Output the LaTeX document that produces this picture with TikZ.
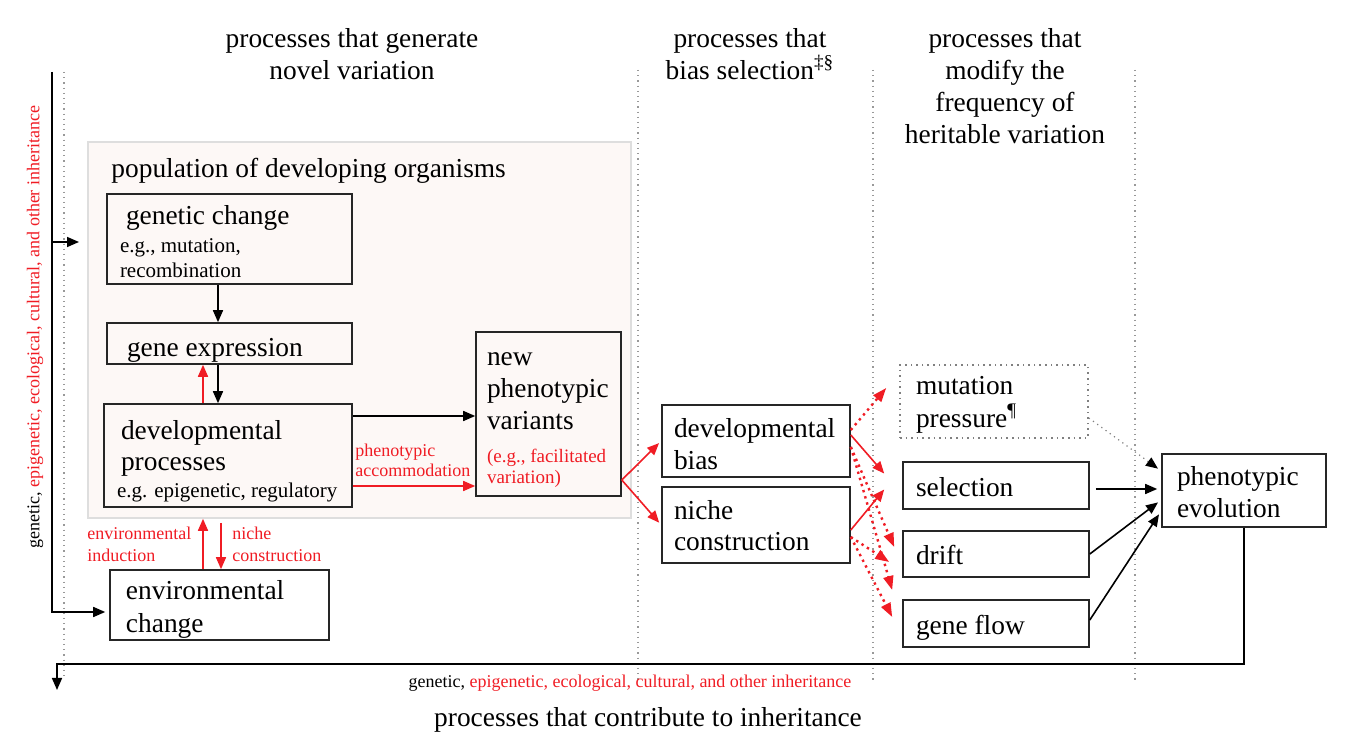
\documentclass[tikz,border=0pt]{standalone}
\usepackage{fontspec}
\setmainfont{Liberation Serif}
\usetikzlibrary{arrows.meta}
\definecolor{popfill}{RGB}{253,248,246}
\definecolor{popline}{RGB}{222,222,222}
\definecolor{mred}{RGB}{240,28,36}
\newcommand{\bigtxt}{\fontsize{13.7}{16}\selectfont}
\newcommand{\midtxt}{\fontsize{10.5}{12.5}\selectfont}
\newcommand{\smalltxt}{\fontsize{9}{11}\selectfont}
\newcommand{\boxlines}[3][2.5pt]{\raisebox{-#1}[\height][\depth]{\makebox[#2][l]{\begin{tabular}{@{}l@{}}#3\end{tabular}}}}

\begin{document}
\begin{tikzpicture}[x=0.5pt,y=-0.5pt,
    box/.style={draw=black!85, line width=0.8pt, inner sep=0pt, font=\bigtxt},
    arr/.style={-{Triangle[length=6pt,width=5pt]}, line width=0.8pt},
    redarr/.style={arr, mred},
    reddot/.style={-{Triangle[length=7pt,width=5pt]}, mred, line width=1.2pt, dotted},
    graydot/.style={-{Triangle[length=6pt,width=5pt,color=black]}, gray, line width=0.6pt, dotted},
    sep/.style={gray!80, dotted, line width=0.6pt},
    lbl/.style={font=\smalltxt, text=mred, align=left, inner sep=0pt, anchor=west}]
    \useasboundingbox (0,0) rectangle (1346,742);

        \draw[sep] (64,72) -- (64,680);      % column lines
        \draw[sep] (638,70) -- (638,680);
        \draw[sep] (873,70) -- (873,680);
        \draw[sep] (1135,70) -- (1135,680);

        \node[font=\bigtxt, align=center](hdvar) at (352,54) {processes that generate\\novel variation};
        \node[font=\bigtxt, align=center](hdbias) at (750,54) {processes that\\bias selection\textsuperscript{‡§}};
        \node[font=\bigtxt, align=center](hdfreq) at (1005,86) {processes that\\modify the\\frequency of\\heritable variation};
        \node[font=\bigtxt](hdinh) at (648,720) {processes that contribute to inheritance};
        \node[font=\smalltxt](inhbot) at (630,683) {genetic, \textcolor{mred}{epigenetic, ecological, cultural, and other inheritance}};
        \node[font=\smalltxt, rotate=90](inhleft) at (35,327) {genetic, \textcolor{mred}{epigenetic, ecological, cultural, and other inheritance}};

        \node[draw=popline, fill=popfill, line width=0.8pt, minimum width=271.5pt, minimum height=188pt, inner sep=0pt](pop) at (359.5,330) {};  % population
        \node[font=\bigtxt, inner sep=0pt, anchor=west](poptxt) at (111,171) {population of developing organisms};

        \node[box, font=\midtxt, minimum width=122.5pt, minimum height=45pt](gen) at (229.5,239) {\boxlines[3pt]{109.5pt}{{\bigtxt\hspace*{3pt}genetic change}\\[1.5pt]e.g., mutation,\\recombination}};
        \node[box, minimum width=122.5pt, minimum height=20.5pt](expr) at (229.5,343.5) {\boxlines[3.5pt]{102.5pt}{gene expression}};
        \node[box, minimum width=124pt, minimum height=51.5pt](dev) at (228,455.5) {\boxlines[3.5pt]{111pt}{\hspace*{2pt}developmental\\[-0.5pt]\hspace*{2pt}processes\\[-2.5pt]\midtxt e.g. epigenetic, regulatory}};
        \node[box, minimum width=72.5pt, minimum height=82pt](newpv) at (548.5,414) {\boxlines[1pt]{61.5pt}{new\\phenotypic\\variants\\[0.5pt]{\color{mred}\fontsize{9.5}{10.5}\selectfont\begin{tabular}[t]{@{}l@{}}(e.g., facilitated\\variation)\end{tabular}}}};
        \node[box, minimum width=109.5pt, minimum height=35pt](env) at (219.5,605) {\boxlines{93.5pt}{environmental\\[0.5pt]change}};

        \node[box, minimum width=94pt, minimum height=36pt](devbias) at (756,441) {\boxlines[3pt]{82pt}{developmental\\bias}};
        \node[box, minimum width=94pt, minimum height=38pt](niche) at (756,525) {\boxlines[2pt]{82pt}{niche\\[-0.5pt]construction}};

        \node[box, draw=gray, dotted, minimum width=94pt, minimum height=36.5pt](mut) at (994,401.5) {\boxlines[1.5pt]{78pt}{mutation\\pressure\textsuperscript{¶}}};
        \node[box, minimum width=93pt, minimum height=23.5pt](sel) at (996,485.5) {\boxlines{80pt}{selection}};
        \node[box, minimum width=93pt, minimum height=23pt](drift) at (996,554) {\boxlines[2pt]{80pt}{drift}};
        \node[box, minimum width=93pt, minimum height=23.5pt](flow) at (996,623.5) {\boxlines{80pt}{gene flow}};
        \node[box, minimum width=82pt, minimum height=36.5pt](pheno) at (1244,490.5) {\boxlines{67pt}{phenotypic\\evolution}};

        \node[lbl](envind) at (87,544) {environmental\\induction};
        \node[lbl](nichelbl) at (232,544) {niche\\construction};
        \node[lbl](acclbl) at (355,460) {phenotypic\\[-1pt]accommodation};

        \draw[arr] (218,0 |- gen.south) -- (218,0 |- expr.north);
        \draw[arr] (218,0 |- expr.south) -- (218,0 |- dev.north);
        \draw[redarr] (203,0 |- dev.north) -- (203,0 |- expr.south);
        \draw[arr] (dev.east |- 0,416) -- (newpv.west |- 0,416);
        \draw[redarr] (dev.east |- 0,486) -- (newpv.west |- 0,486);
        \draw[redarr] (203,0 |- env.north) -- (203,0 |- pop.south);      % environmental induction
        \draw[redarr, shorten <=2pt] (221,0 |- pop.south) -- (221,0 |- env.north);   % niche construction

        \draw[redarr, shorten >=1.5pt] (newpv.east |- 0,480) -- (devbias.west);
        \draw[redarr, shorten >=1.5pt] (newpv.east |- 0,480) -- (niche.west);

        \draw[redarr] (devbias.east |- 0,435) -- ([xshift=-9pt,yshift=6pt]sel.west);
        \draw[redarr] (niche.east |- 0,530) -- ([xshift=-9pt,yshift=-2pt]sel.west);
        \draw[reddot] (devbias.east |- 0,430) -- ([xshift=-6.5pt,yshift=6.75pt]mut.west);
        \draw[reddot] (devbias.east |- 0,447) -- ([xshift=-4pt,yshift=3.5pt]drift.west);
        \draw[reddot] (devbias.east |- 0,447) -- ([xshift=-5pt,yshift=16.75pt]flow.west);
        \draw[reddot] (niche.east |- 0,537) -- ([xshift=-6.5pt,yshift=-4pt]drift.west);
        \draw[reddot] (niche.east |- 0,537) -- ([xshift=-5pt,yshift=3.25pt]flow.west);

        \draw[arr, shorten <=3pt, shorten >=2pt] (sel.east |- 0,489) -- (pheno.west |- 0,489);
        \draw[arr, shorten >=2pt] (drift.east) -- (pheno.west |- 0,500);
        \draw[arr, shorten >=2pt] (flow.east |- 0,620) -- (pheno.west |- 0,511);
        \draw[graydot, shorten >=2pt] (mut.east |- 0,418) -- (pheno.west |- 0,471);

        \coordinate (ltop) at (52,72);       % inheritance loop
        \coordinate (lbranch) at (52,242);
        \coordinate (lend) at (79,242);
        \coordinate (bend) at (57,664);
        \coordinate (bottom) at (57,690);
        \draw[arr, shorten >=2pt] (ltop) |- (env.west |- 0,612);
        \draw[arr] (lbranch) -- (lend);
        \draw[arr] (pheno.south) |- (bend) -- (bottom);

    \end{tikzpicture}
\end{document}
